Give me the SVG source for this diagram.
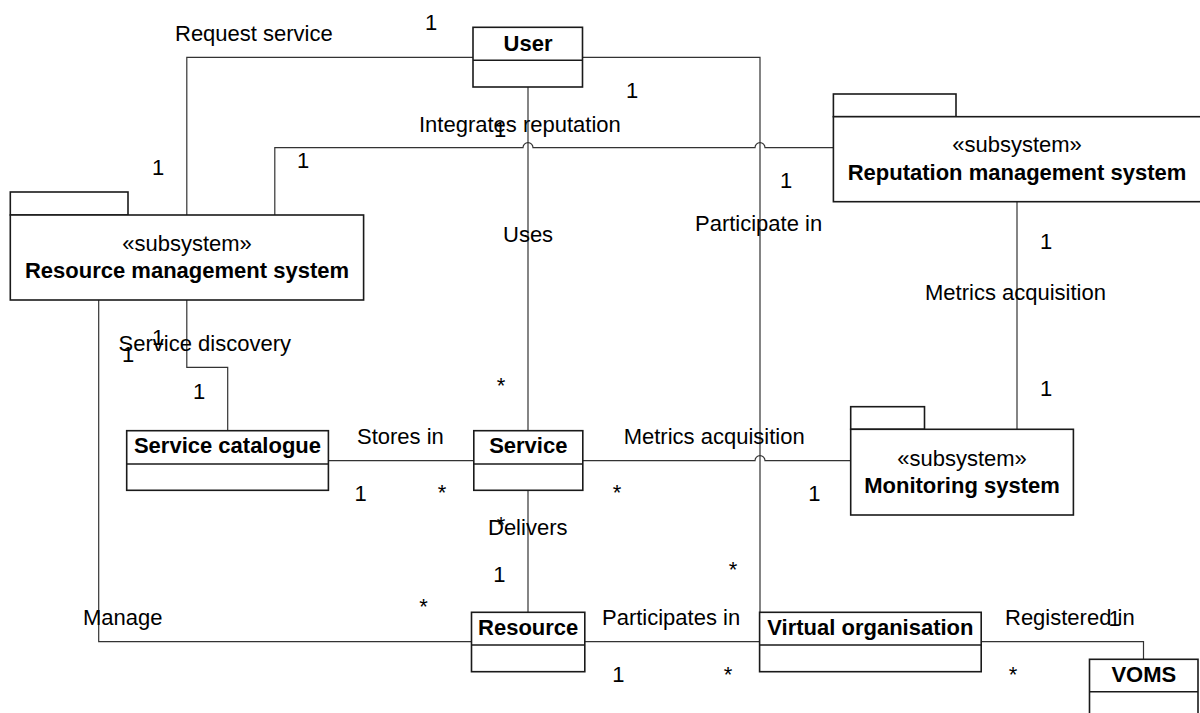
<svg xmlns="http://www.w3.org/2000/svg" width="1200" height="713" viewBox="0 0 1200 713">
<style>
.box{fill:#fff;stroke:#1a1a1a;stroke-width:1.6}
.conn{fill:none;stroke:#333;stroke-width:1.2}
text{font-family:"Liberation Sans",Arial,sans-serif;font-size:22px;fill:#000}
.b{font-weight:bold}
.m{text-anchor:middle}
</style>
<rect width="1200" height="713" fill="#fff"/>
<g id="connectors">
<path class="conn" d="M473,57.3 H186.8 V215"/>
<path class="conn" d="M582.5,57.3 H760 V612.3"/>
<path class="conn" d="M274.8,215 V147.7 H523 a5,5 0 0 1 10,0 H755 a5,5 0 0 1 10,0 H833.4"/>
<path class="conn" d="M528,87 V430.7"/>
<path class="conn" d="M186.8,300 V367.3 H227.7 V430.7"/>
<path class="conn" d="M98.7,300 V641.7 H471.5"/>
<path class="conn" d="M328.4,460.7 H473.8"/>
<path class="conn" d="M582.8,460.7 H755 a5,5 0 0 1 10,0 H850.7"/>
<path class="conn" d="M1017,201.7 V429.3"/>
<path class="conn" d="M528,490.3 V612.3"/>
<path class="conn" d="M584.8,641.7 H759.6"/>
<path class="conn" d="M981.2,641.7 H1143.5 V659.3"/>
</g>
<g id="labels">
<text x="175" y="41">Request service</text>
<text x="419" y="131.5">Integrates reputation</text>
<text x="503" y="241.5">Uses</text>
<text x="695" y="231">Participate in</text>
<text x="925" y="300">Metrics acquisition</text>
<text x="118.6" y="350.7">Service discovery</text>
<text x="357" y="444">Stores in</text>
<text x="623.7" y="444">Metrics acquisition</text>
<text x="488" y="535">Delivers</text>
<text x="83" y="625">Manage</text>
<text x="602" y="625">Participates in</text>
<text x="1005" y="625">Registered in</text>
<text class="m" x="431" y="30">1</text>
<text class="m" x="632" y="98">1</text>
<text class="m" x="158" y="175">1</text>
<text class="m" x="303" y="168">1</text>
<text class="m" x="500" y="137">1</text>
<text class="m" x="786" y="188">1</text>
<text class="m" x="1046" y="249">1</text>
<text class="m" x="158" y="345">1</text>
<text class="m" x="128" y="362">1</text>
<text class="m" x="199" y="399">1</text>
<text class="m" x="501" y="393">*</text>
<text class="m" x="360.5" y="500.7">1</text>
<text class="m" x="442" y="500">*</text>
<text class="m" x="617" y="500">*</text>
<text class="m" x="814.3" y="500.7">1</text>
<text class="m" x="1046" y="396">1</text>
<text class="m" x="501" y="532">*</text>
<text class="m" x="499.4" y="581.5">1</text>
<text class="m" x="423.6" y="614">*</text>
<text class="m" x="733" y="577">*</text>
<text class="m" x="618.4" y="681.5">1</text>
<text class="m" x="728" y="682">*</text>
<text class="m" x="1114.7" y="626">1</text>
<text class="m" x="1013" y="682">*</text>
</g>
<g id="user">
<rect class="box" x="473" y="27.3" width="109.5" height="59.7"/>
<line class="box" x1="473" y1="60.3" x2="582.5" y2="60.3"/>
<text class="b m" x="528" y="50.5">User</text>
</g>
<g id="resource-management-system">
<rect class="box" x="10.3" y="192" width="117.7" height="23"/>
<rect class="box" x="10.3" y="215" width="353.3" height="85"/>
<text class="m" x="187" y="250.5">«subsystem»</text>
<text class="b m" x="187" y="278">Resource management system</text>
</g>
<g id="reputation-management-system">
<rect class="box" x="833.4" y="94" width="122.6" height="22.7"/>
<rect class="box" x="833.4" y="116.7" width="368" height="85"/>
<text class="m" x="1017" y="152">«subsystem»</text>
<text class="b m" x="1017" y="180">Reputation management system</text>
</g>
<g id="monitoring-system">
<rect class="box" x="850.7" y="406.7" width="73.8" height="22.6"/>
<rect class="box" x="850.7" y="429.3" width="222.7" height="85.7"/>
<text class="m" x="962" y="465.5">«subsystem»</text>
<text class="b m" x="962" y="493.3">Monitoring system</text>
</g>
<g id="service-catalogue">
<rect class="box" x="126.7" y="430.7" width="201.7" height="59.6"/>
<line class="box" x1="126.7" y1="464" x2="328.4" y2="464"/>
<text class="b m" x="227.5" y="453.4">Service catalogue</text>
</g>
<g id="service">
<rect class="box" x="473.8" y="430.7" width="109" height="59.6"/>
<line class="box" x1="473.8" y1="464" x2="582.8" y2="464"/>
<text class="b m" x="528.3" y="453.4">Service</text>
</g>
<g id="resource">
<rect class="box" x="471.5" y="612.3" width="113.3" height="59.4"/>
<line class="box" x1="471.5" y1="645" x2="584.8" y2="645"/>
<text class="b m" x="528.2" y="635">Resource</text>
</g>
<g id="virtual-organisation">
<rect class="box" x="759.6" y="612.3" width="221.6" height="59.4"/>
<line class="box" x1="759.6" y1="645" x2="981.2" y2="645"/>
<text class="b m" x="870.4" y="635">Virtual organisation</text>
</g>
<g id="voms">
<rect class="box" x="1089.5" y="659.3" width="108.5" height="70"/>
<line class="box" x1="1089.5" y1="691.7" x2="1198" y2="691.7"/>
<text class="b m" x="1143.8" y="682">VOMS</text>
</g>
</svg>
